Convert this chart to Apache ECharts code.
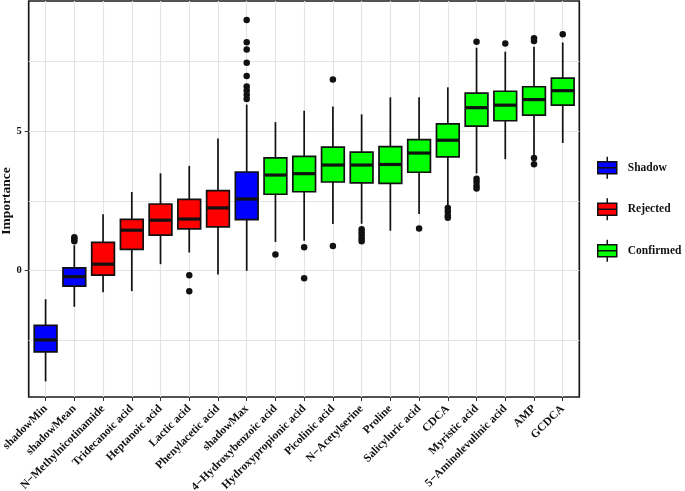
<!DOCTYPE html>
<html><head><meta charset="utf-8">
<script src="https://cdn.jsdelivr.net/npm/echarts@6/dist/echarts.min.js"></script>
<style>html,body{margin:0;padding:0;background:#fff}#c{width:685px;height:491px}</style>
</head><body><div id="c"></div>
<script>
const categories = ['shadowMin','shadowMean','N\u2212Methylnicotinamide','Tridecanoic acid','Heptanoic acid','Lactic acid','Phenylacetic acid','shadowMax','4\u2212Hydroxybenzoic acid','Hydroxypropionic acid','Picolinic acid','N\u2212Acetylserine','Proline','Salicyluric acid','CDCA','Myristic acid','5\u2212Aminolevulinic acid','AMP','GCDCA'];
const groups = ['Shadow','Shadow','Rejected','Rejected','Rejected','Rejected','Rejected','Shadow','Confirmed','Confirmed','Confirmed','Confirmed','Confirmed','Confirmed','Confirmed','Confirmed','Confirmed','Confirmed','Confirmed'];
const whiskerLow  = [-3.98,-1.30,-0.78,-0.74,0.23,0.65,-0.14,-0.01,1.03,1.07,1.67,1.68,1.43,2.03,2.35,3.49,4.00,4.15,4.58];
const q1          = [-2.92,-0.56,-0.16,0.76,1.27,1.50,1.57,1.83,2.74,2.83,3.18,3.15,3.13,3.53,4.08,5.19,5.38,5.58,5.94];
const median      = [-2.49,-0.22,0.23,1.45,1.81,1.85,2.25,2.57,3.43,3.48,3.79,3.79,3.81,4.22,4.68,5.85,5.94,6.14,6.46];
const q3          = [-1.97,0.10,1.01,1.84,2.39,2.56,2.87,3.54,4.05,4.10,4.43,4.25,4.45,4.70,5.27,6.37,6.44,6.60,6.91];
const whiskerHigh = [-1.03,0.91,2.02,2.82,3.49,3.76,4.74,5.96,5.33,5.74,5.89,5.61,6.22,6.22,6.58,8.00,7.86,8.04,8.19];
const outlierCategory = ['shadowMean','shadowMean','shadowMean','Lactic acid','Lactic acid','shadowMax','shadowMax','shadowMax','shadowMax','shadowMax','shadowMax','shadowMax','shadowMax','shadowMax','4\u2212Hydroxybenzoic acid','Hydroxypropionic acid','Hydroxypropionic acid','Picolinic acid','Picolinic acid','N\u2212Acetylserine','N\u2212Acetylserine','N\u2212Acetylserine','N\u2212Acetylserine','N\u2212Acetylserine','Salicyluric acid','CDCA','CDCA','CDCA','CDCA','Myristic acid','Myristic acid','Myristic acid','Myristic acid','Myristic acid','5\u2212Aminolevulinic acid','AMP','AMP','AMP','AMP','GCDCA'];
const outlierValue    = [1.05,1.13,1.20,-0.17,-0.74,9.00,8.20,7.94,7.46,6.99,6.61,6.47,6.31,6.16,0.58,0.84,-0.28,6.86,0.88,1.48,1.38,1.27,1.15,1.05,1.51,2.25,2.12,1.98,1.90,8.22,3.30,3.18,3.05,2.95,8.15,8.34,8.24,4.04,3.82,8.49];
const groupNames = ['Shadow','Rejected','Confirmed'];
const groupColors = {Shadow:'#0000FF', Rejected:'#FF0000', Confirmed:'#00FF00'};

const FONT = 'Liberation Serif';
const INK = '#111111';
const GRIDC = '#e4e4e4';

function renderBox(params, api) {
  const x = api.value(0);
  const pLow = api.coord([x, api.value(1)]);
  const pQ1 = api.coord([x, api.value(2)]);
  const pMed = api.coord([x, api.value(3)]);
  const pQ3 = api.coord([x, api.value(4)]);
  const pHigh = api.coord([x, api.value(5)]);
  const bw = api.size([1, 0])[0] * 0.79;
  const cx = pMed[0];
  const fill = api.visual('color');
  return {type: 'group', children: [
    {type: 'line', shape: {x1: cx, y1: pHigh[1], x2: cx, y2: pQ3[1]}, style: {stroke: INK, lineWidth: 1.7}},
    {type: 'line', shape: {x1: cx, y1: pQ1[1], x2: cx, y2: pLow[1]}, style: {stroke: INK, lineWidth: 1.7}},
    {type: 'rect', shape: {x: cx - bw / 2, y: pQ3[1], width: bw, height: pQ1[1] - pQ3[1]}, style: {fill: fill, stroke: INK, lineWidth: 1.7}},
    {type: 'line', shape: {x1: cx - bw / 2, y1: pMed[1], x2: cx + bw / 2, y2: pMed[1]}, style: {stroke: INK, lineWidth: 3.2}}
  ]};
}

const boxSeries = groupNames.map(g => ({
  type: 'custom', name: g, xAxisIndex: 0, yAxisIndex: 0,
  itemStyle: {color: groupColors[g]},
  encode: {x: 0, y: [1, 2, 3, 4, 5]},
  renderItem: renderBox,
  data: categories.map((c, i) => groups[i] === g ? [i, whiskerLow[i], q1[i], median[i], q3[i], whiskerHigh[i]] : null).filter(d => d)
}));

const outlierData = outlierCategory.map((c, k) => [categories.indexOf(c), outlierValue[k]]);

const yMin = -4.54, yMax = 9.68, gTop = 1, gBottomPx = 397, H = 491;
function yPix(v) { return gTop + (yMax - v) / (yMax - yMin) * (gBottomPx - gTop); }

const frameL = 28.7, frameR = 579.3;
const firstC = 45.6, step = 28.73;
const bandL = firstC - step / 2, bandR = bandL + step * categories.length;
const lastC = firstC + step * (categories.length - 1);

const hiddenVal = (g) => ({type: 'value', gridIndex: g, show: false});
const G = (o) => Object.assign({containLabel: false, outerBoundsMode: 'none'}, o);

const option = {
  animation: false,
  backgroundColor: '#ffffff',
  grid: [
    G({left: bandL, right: 685 - bandR, top: gTop, bottom: H - gBottomPx}),
    G({left: frameL, right: 685 - frameR, top: gTop, bottom: H - gBottomPx, show: true, borderColor: '#1a1a1a', borderWidth: 1.7, backgroundColor: 'transparent'}),
    G({left: firstC, right: 685 - lastC, top: gTop, bottom: H - gBottomPx}),
    G({left: frameL, right: 685 - frameR, top: yPix(5), bottom: H - yPix(0)}),
    G({left: frameL, right: 685 - frameR, top: yPix(7.5), bottom: H - yPix(-2.5)})
  ],
  xAxis: [
    {type: 'category', gridIndex: 0, data: categories, boundaryGap: true, position: 'bottom',
     axisLine: {show: false, onZero: false},
     axisTick: {show: true, alignWithLabel: true, interval: 0, length: 4, lineStyle: {color: '#333', width: 1}},
     axisLabel: {interval: 0, rotate: 45, margin: 10, fontFamily: FONT, fontWeight: 'bold', fontSize: 11.5, color: INK},
     splitLine: {show: false}},
    hiddenVal(1),
    {type: 'category', gridIndex: 2, data: categories, boundaryGap: false,
     axisLine: {show: false, onZero: false}, axisTick: {show: false}, axisLabel: {show: false},
     splitLine: {show: true, interval: 0, lineStyle: {color: GRIDC, width: 1.2}}},
    hiddenVal(3),
    hiddenVal(4)
  ],
  yAxis: [
    {type: 'value', gridIndex: 0, min: yMin, max: yMax, show: false},
    hiddenVal(1),
    hiddenVal(2),
    {type: 'value', gridIndex: 3, min: 0, max: 5, interval: 5, position: 'left',
     axisLine: {show: false, onZero: false},
     axisTick: {show: true, length: 4, lineStyle: {color: '#333', width: 1}},
     axisLabel: {margin: 7, fontFamily: FONT, fontWeight: 'bold', fontSize: 10.5, color: INK},
     splitLine: {show: true, lineStyle: {color: GRIDC, width: 1.2}},
     name: 'Importance', nameLocation: 'middle', nameGap: 15, nameMoveOverlap: false,
     nameTextStyle: {fontFamily: FONT, fontWeight: 'bold', fontSize: 13.5, color: INK}},
    {type: 'value', gridIndex: 4, min: -2.5, max: 7.5, interval: 5,
     axisLine: {show: false, onZero: false}, axisTick: {show: false}, axisLabel: {show: false},
     splitLine: {show: true, lineStyle: {color: GRIDC, width: 1}}}
  ],
  legend: {
    orient: 'vertical', left: 597, top: 156, padding: 0,
    itemWidth: 19, itemHeight: 22, itemGap: 18,
    icon: 'path://M9.5,0L9.5,5M0,5L19,5L19,17L0,17ZM0,11L19,11M9.5,17L9.5,22',
    data: groupNames,
    itemStyle: {borderColor: INK, borderWidth: 1.5},
    textStyle: {fontFamily: FONT, fontWeight: 'bold', fontSize: 11.5, color: INK, padding: [0, 0, 0, 6]}
  },
  series: boxSeries.concat([{
    type: 'scatter', name: 'outliers', xAxisIndex: 0, yAxisIndex: 0,
    symbol: 'circle', symbolSize: 6.5,
    itemStyle: {color: INK, opacity: 1},
    data: outlierData, z: 3
  }])
};

const chart = echarts.init(document.getElementById('c'), null, {renderer: 'canvas'});
chart.setOption(option);
</script>
</body></html>
